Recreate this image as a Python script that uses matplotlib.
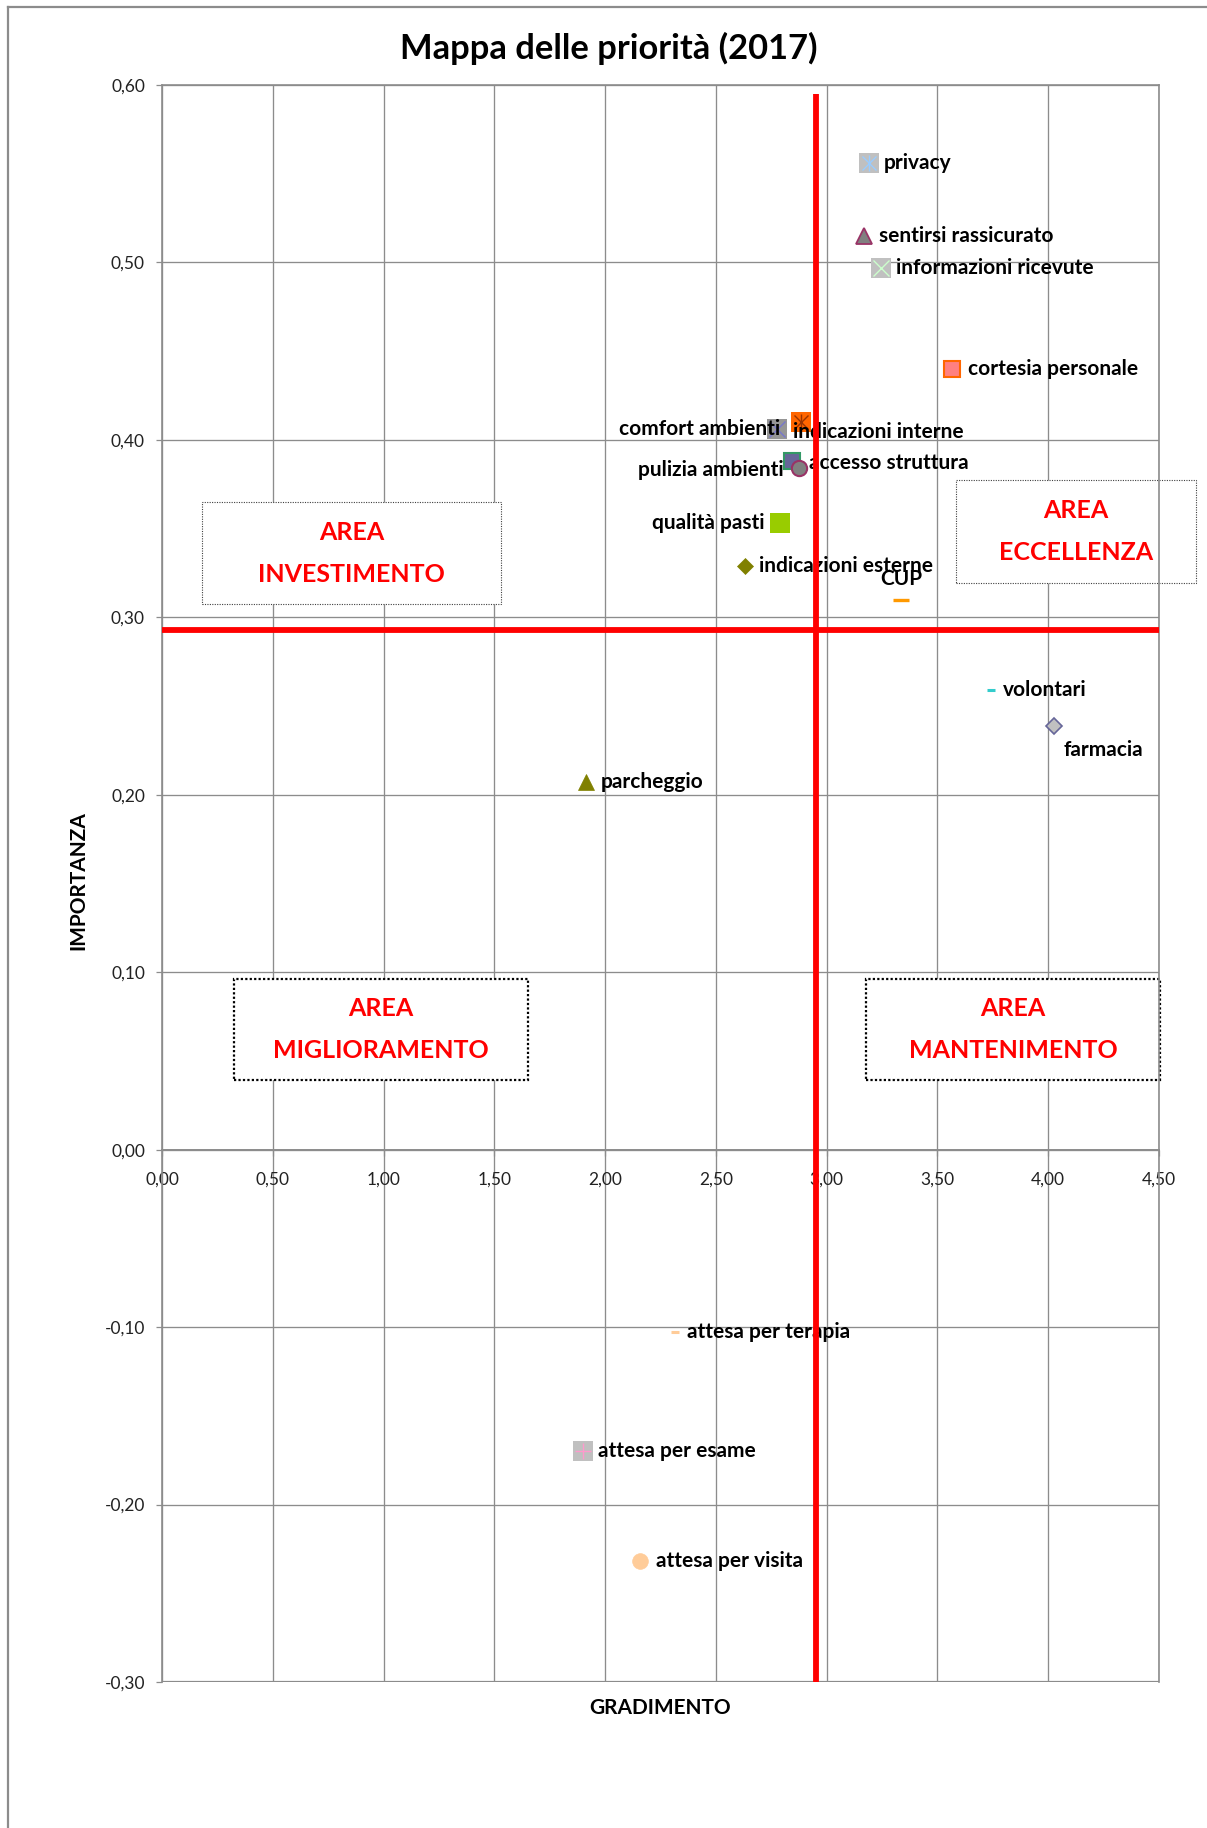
import matplotlib
matplotlib.use('Agg')
import matplotlib.pyplot as plt
from matplotlib.patches import Rectangle
from matplotlib.lines import Line2D
from matplotlib.ticker import FixedLocator, FuncFormatter

plt.rcParams['font.family'] = ['Lato', 'DejaVu Sans']

# Aspetti del servizio: gradimento (x) e importanza (y)
aspetti = ['privacy', 'sentirsi rassicurato', 'informazioni ricevute', 'cortesia personale',
           'indicazioni interne', 'comfort ambienti', 'pulizia ambienti', 'accesso struttura',
           'qualità pasti', 'indicazioni esterne', 'CUP', 'volontari', 'farmacia', 'parcheggio',
           'attesa per terapia', 'attesa per esame', 'attesa per visita']
gradimento = [3.19, 3.17, 3.245, 3.567, 2.883, 2.776, 2.843, 2.874, 2.791, 2.631,
              3.336, 3.743, 4.026, 1.914, 2.315, 1.899, 2.159]
importanza = [0.556, 0.515, 0.497, 0.440, 0.410, 0.406, 0.388, 0.384, 0.353, 0.329,
              0.310, 0.259, 0.239, 0.207, -0.103, -0.170, -0.232]

# Soglie dei quadranti
soglia_x_gradimento = [2.95, 2.95]
soglia_x_importanza = [-0.30, 0.595]
soglia_y_gradimento = [0.0, 4.5]
soglia_y_importanza = [0.293, 0.293]

x_ticks = [0.0, 0.5, 1.0, 1.5, 2.0, 2.5, 3.0, 3.5, 4.0, 4.5]
y_ticks = [-0.3, -0.2, -0.1, 0.0, 0.1, 0.2, 0.3, 0.4, 0.5, 0.6]

aree = ['AREA\nINVESTIMENTO', 'AREA\nECCELLENZA', 'AREA\nMIGLIORAMENTO', 'AREA\nMANTENIMENTO']

# marker, size, face, edge, edge width, overlay marker, overlay colour
stili = [
    ('s', 14.2, '#C0C0C0', 'none', 0, 'star', '#99CCFF'),
    ('^', 12.0, '#808080', '#993366', 1.3, None, None),
    ('s', 14.2, '#C0C0C0', 'none', 0, 'x', '#CCFFCC'),
    ('s', 11.0, '#FF8080', '#FF6600', 1.5, None, None),
    ('s', 14.2, '#FF6600', 'none', 0, 'star', '#993300'),
    ('s', 14.0, '#969696', 'none', 0, 'x', '#7777CC'),
    ('s', 11.0, '#666699', '#339966', 1.5, None, None),
    ('o', 11.0, '#808080', '#993366', 1.5, None, None),
    ('s', 14.4, '#99CC00', 'none', 0, None, None),
    ('D', 8.0, '#808000', '#808000', 0.5, None, None),
    ('_', 11.5, '#FF9900', '#FF9900', 2.4, None, None),
    ('_', 6.0, '#33CCCC', '#33CCCC', 2.2, None, None),
    ('D', 7.8, '#C0C0C0', '#666699', 1.2, None, None),
    ('^', 12.0, '#808000', '#808000', 0.5, None, None),
    ('_', 6.0, '#FFCC99', '#FFCC99', 2.2, None, None),
    ('s', 14.4, '#C0C0C0', 'none', 0, '+', '#FF99CC'),
    ('o', 11.3, '#FFCC99', '#FFCC99', 0.5, None, None),
]

# label alignment and offset from the marker (pixels, +dy = down)
etichette = [
    ('left', 15, 0), ('left', 15, 0), ('left', 15, 0), ('left', 16, 0),
    ('left', -8, 10), ('right', 3, 0), ('right', -8, 9), ('left', 10, -5),
    ('right', -16, 0), ('left', 14, 0), ('center', 0, -21), ('left', 12, 0),
    ('left', 10, 24), ('left', 15, 0), ('left', 12, 0), ('left', 15, 0), ('left', 16, 0),
]

fig = plt.figure(figsize=(12.07, 18.28), dpi=100)
fig.patch.set_facecolor('white')

# outer chart frame
frame_col = '#8C8C8C'
fig.add_artist(Line2D([8 / 1207, 1.0], [1 - 7 / 1828, 1 - 7 / 1828],
                      transform=fig.transFigure, color=frame_col, lw=1.6))
fig.add_artist(Line2D([8 / 1207, 8 / 1207], [0.0, 1 - 7 / 1828],
                      transform=fig.transFigure, color=frame_col, lw=1.6))

ax = fig.add_axes([162 / 1207, 1 - 1682 / 1828, 997 / 1207, 1597 / 1828])
ax.set_xlim(x_ticks[0], x_ticks[-1])
ax.set_ylim(y_ticks[0], y_ticks[-1])

grid_col = '#8C8C8C'
ax.xaxis.set_major_locator(FixedLocator(x_ticks))
ax.yaxis.set_major_locator(FixedLocator(y_ticks))
fmt = FuncFormatter(lambda v, p: f'{v:.2f}'.replace('.', ','))
ax.xaxis.set_major_formatter(fmt)
ax.yaxis.set_major_formatter(fmt)
ax.grid(True, color=grid_col, linewidth=0.95, zorder=0)
ax.set_axisbelow(True)

for s in ax.spines.values():
    s.set_color(grid_col)
    s.set_linewidth(1.2)
ax.spines['bottom'].set_position(('data', 0))
ax.spines['bottom'].set_linewidth(1.4)
ax.axhline(y_ticks[0], color=grid_col, lw=1.6, zorder=1)

ax.tick_params(axis='y', direction='out', length=4.3, width=0.9, color=grid_col,
               pad=8, labelsize=12.5, labelcolor='#222222')
ax.tick_params(axis='x', direction='out', length=4.3, width=0.9, color=grid_col,
               pad=11.5, labelsize=12.5, labelcolor='#222222')

ax.set_xlabel('GRADIMENTO', fontsize=15, fontweight='bold')
ax.xaxis.set_label_coords(0.4995, -0.0165)
ax.xaxis.label.set_va('center')
ax.set_ylabel('IMPORTANZA', fontsize=15, fontweight='bold')
ax.yaxis.set_label_coords(-0.0739, 0.502)

fig.text(0.5046, 1 - 48 / 1828, 'Mappa delle priorità (2017)', ha='center', va='center',
         fontsize=24.8, fontweight='bold')

# quadrant boxes
box_pos = [
    (0.0401, 0.6750, 0.2999, 0.0639, '#404040', 0.8, (0, (1, 1.2))),
    (0.7964, 0.6882, 0.2407, 0.0645, '#404040', 0.8, (0, (1, 1.2))),
    (0.0722, 0.3770, 0.2949, 0.0632, '#000000', 1.6, (0, (1, 1.0))),
    (0.7061, 0.3770, 0.2949, 0.0632, '#000000', 1.6, (0, (1, 1.0))),
]
for testo, (bx, by, bw, bh, ec, lw, ls) in zip(aree, box_pos):
    ax.add_patch(Rectangle((bx, by), bw, bh, transform=ax.transAxes, facecolor='white',
                           edgecolor=ec, linewidth=lw, linestyle=ls, clip_on=False, zorder=2.5))
    ax.text(bx + bw / 2, by + bh / 2, testo, transform=ax.transAxes, ha='center',
            va='center', color='#FF0000', fontsize=18, fontweight='bold',
            linespacing=2.0, zorder=2.6, clip_on=False)

# data points
for xv, yv, st in zip(gradimento, importanza, stili):
    mk, ms, fc, ec, mew, ov, oc = st
    ax.plot([xv], [yv], linestyle='none', marker=mk, markersize=ms, markerfacecolor=fc,
            markeredgecolor=(ec if ec != 'none' else fc) if mk != '_' else fc,
            markeredgewidth=mew, zorder=3, clip_on=False)
    if ov == 'star':
        ax.plot([xv], [yv], linestyle='none', marker='x', markersize=ms * 0.72,
                markeredgecolor=oc, markeredgewidth=1.0, zorder=3.1)
        ax.plot([xv], [yv], linestyle='none', marker='|', markersize=ms * 0.85,
                markeredgecolor=oc, markeredgewidth=1.0, zorder=3.1)
    elif ov is not None:
        ax.plot([xv], [yv], linestyle='none', marker=ov, markersize=ms * 0.8,
                markeredgecolor=oc, markeredgewidth=1.0, zorder=3.1)

for nome, xv, yv, (ha, dx, dy) in zip(aspetti, gradimento, importanza, etichette):
    ax.annotate(nome, (xv, yv), xytext=(dx, -dy), textcoords='offset pixels',
                ha=ha, va='center', fontsize=15, fontweight='bold', color='black',
                zorder=4, annotation_clip=False)

# quadrant separators
ax.plot(soglia_x_gradimento, soglia_x_importanza, color='#FF0000', lw=4.2,
        solid_capstyle='butt', zorder=5, clip_on=False)
ax.plot(soglia_y_gradimento, soglia_y_importanza, color='#FF0000', lw=4.2,
        solid_capstyle='butt', zorder=5, clip_on=False)

fig.savefig('out.png', dpi=100, facecolor='white')
